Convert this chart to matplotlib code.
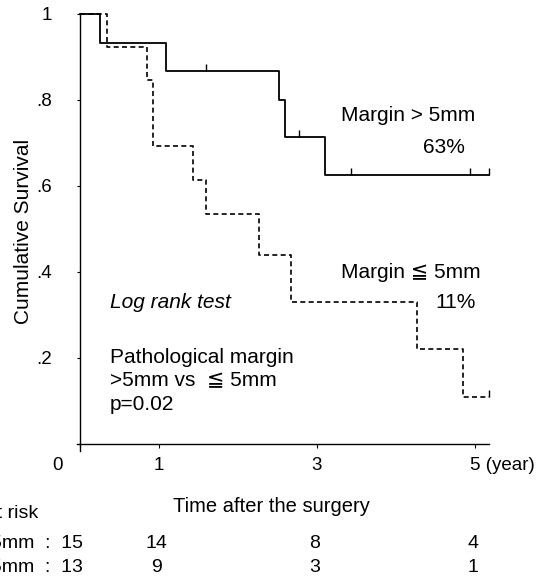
import matplotlib
matplotlib.use("Agg")
import matplotlib.pyplot as plt
from matplotlib.transforms import blended_transform_factory

plt.rcParams["font.family"] = ["Liberation Sans", "DejaVu Sans"]

# Kaplan-Meier steps
wide_t = [0, 0.25, 1.09, 2.52, 2.60, 3.10, 5.18]
wide_s = [1.0, 0.933, 0.867, 0.800, 0.714, 0.626, 0.626]
wide_cens_t = [1.60, 2.77, 3.43, 4.94, 5.18]
wide_cens_s = [0.867, 0.714, 0.626, 0.626, 0.626]

narrow_t = [0, 0.34, 0.85, 0.92, 1.43, 1.60, 2.27, 2.67, 4.27, 4.85, 5.18]
narrow_s = [1.0, 0.923, 0.846, 0.692, 0.615, 0.535, 0.440, 0.330, 0.220, 0.110, 0.110]
narrow_cens_t = [5.18]
narrow_cens_s = [0.110]

risk_times = [0, 1, 3, 5]
risk_wide = [15, 14, 8, 4]
risk_narrow = [13, 9, 3, 1]
row_labels = ["Margin >5mm", "Margin \u22665mm"]

xticks = [0, 1, 3, 5]
xtick_labels = ["0", "1", "3", "5 (year)"]
yticks = [0.2, 0.4, 0.6, 0.8, 1.0]
ytick_labels = [".2", ".4", ".6", ".8", "1"]

W, H = 552, 579
fig = plt.figure(figsize=(W / 100, H / 100), dpi=100)

# axes placed so that x=0 sits at px 80, 79 px per year, y 0..1 spans px 444..14
ppy = 79.0
x0, x1 = -0.04, 5.18
y0, y1 = -0.016, 1.0
left = 80 + x0 * ppy
width = (x1 - x0) * ppy
top = 14
height = (y1 - y0) * 430
ax = fig.add_axes([left / W, 1 - (top + height) / H, width / W, height / H])
ax.set_xlim(x0, x1)
ax.set_ylim(y0, y1)
for s in ["top", "right"]:
    ax.spines[s].set_visible(False)
ax.spines["left"].set_position(("data", 0))
ax.spines["bottom"].set_position(("data", 0))
for s in ["left", "bottom"]:
    ax.spines[s].set_linewidth(1.0)

ax.step(wide_t, wide_s, where="post", color="black", lw=1.3, clip_on=False)
ax.plot(wide_cens_t, wide_cens_s, ls="none", marker=2, ms=5, mew=1.0,
        color="black", clip_on=False)
ax.step(narrow_t, narrow_s, where="post", color="black", lw=1.2,
        dashes=(3, 2), clip_on=False)
ax.plot(narrow_cens_t, narrow_cens_s, ls="none", marker=2, ms=5, mew=1.0,
        color="black", clip_on=False)

ax.set_yticks(yticks)
ax.set_yticklabels(ytick_labels, fontsize=13.5)
ax.tick_params(axis="y", length=2, pad=18)
ax.set_xticks(xticks)
ax.set_xticklabels([])
ax.tick_params(axis="x", length=3, direction="out")

# x tick labels, "0" sits left of the axis and "5 (year)" runs to the right
tr = blended_transform_factory(ax.transData, fig.transFigure)
ylab = 1 - 466 / H
for t, lab in zip(xticks, xtick_labels):
    if t == 0:
        ax.text(t - 0.29, ylab, lab, transform=tr, ha="center", va="center", fontsize=13.5)
    elif lab.startswith("5"):
        ax.text(t - 0.06, ylab, lab, transform=tr, ha="left", va="center", fontsize=13.5)
    else:
        ax.text(t, ylab, lab, transform=tr, ha="center", va="center", fontsize=13.5)

fig.text(24 / W, 1 - 231 / H, "Cumulative Survival", rotation=90,
         ha="center", va="center", fontsize=15)
ax.text(2.42, 1 - 507 / H, "Time after the surgery", transform=tr,
        ha="center", va="center", fontsize=14.5)

# annotations
ax.text(3.30, 0.763, "Margin > 5mm", fontsize=15, va="center")
ax.text(4.34, 0.690, "63%", fontsize=15, va="center")
ax.text(3.30, 0.400, "Margin \u2266 5mm", fontsize=15, va="center")
ax.text(4.50, 0.328, "11%", fontsize=15, va="center")
ax.text(0.38, 0.328, "Log rank test", fontsize=15, style="italic", va="center")
ax.text(0.38, 0.202, "Pathological margin", fontsize=15, va="center")
ax.text(0.38, 0.149, ">5mm vs  \u2266 5mm", fontsize=15, va="center")
ax.text(0.38, 0.091, "p=0.02", fontsize=15, va="center")

# number at risk table
fig.text(38 / W, 1 - 514 / H, "No. at risk", ha="right", va="center", fontsize=14)
for row, (lab, counts) in enumerate([(row_labels[0], risk_wide), (row_labels[1], risk_narrow)]):
    yy = 1 - (543 + 24 * row) / H
    for t, n in zip(risk_times, counts):
        if t == 0:
            fig.text(83 / W, yy, f"{lab}  :  {n}", ha="right", va="center", fontsize=14)
        else:
            ax.text(t - 0.03, yy, str(n), transform=tr, ha="center", va="center", fontsize=14)

fig.savefig("out.png", dpi=100)
